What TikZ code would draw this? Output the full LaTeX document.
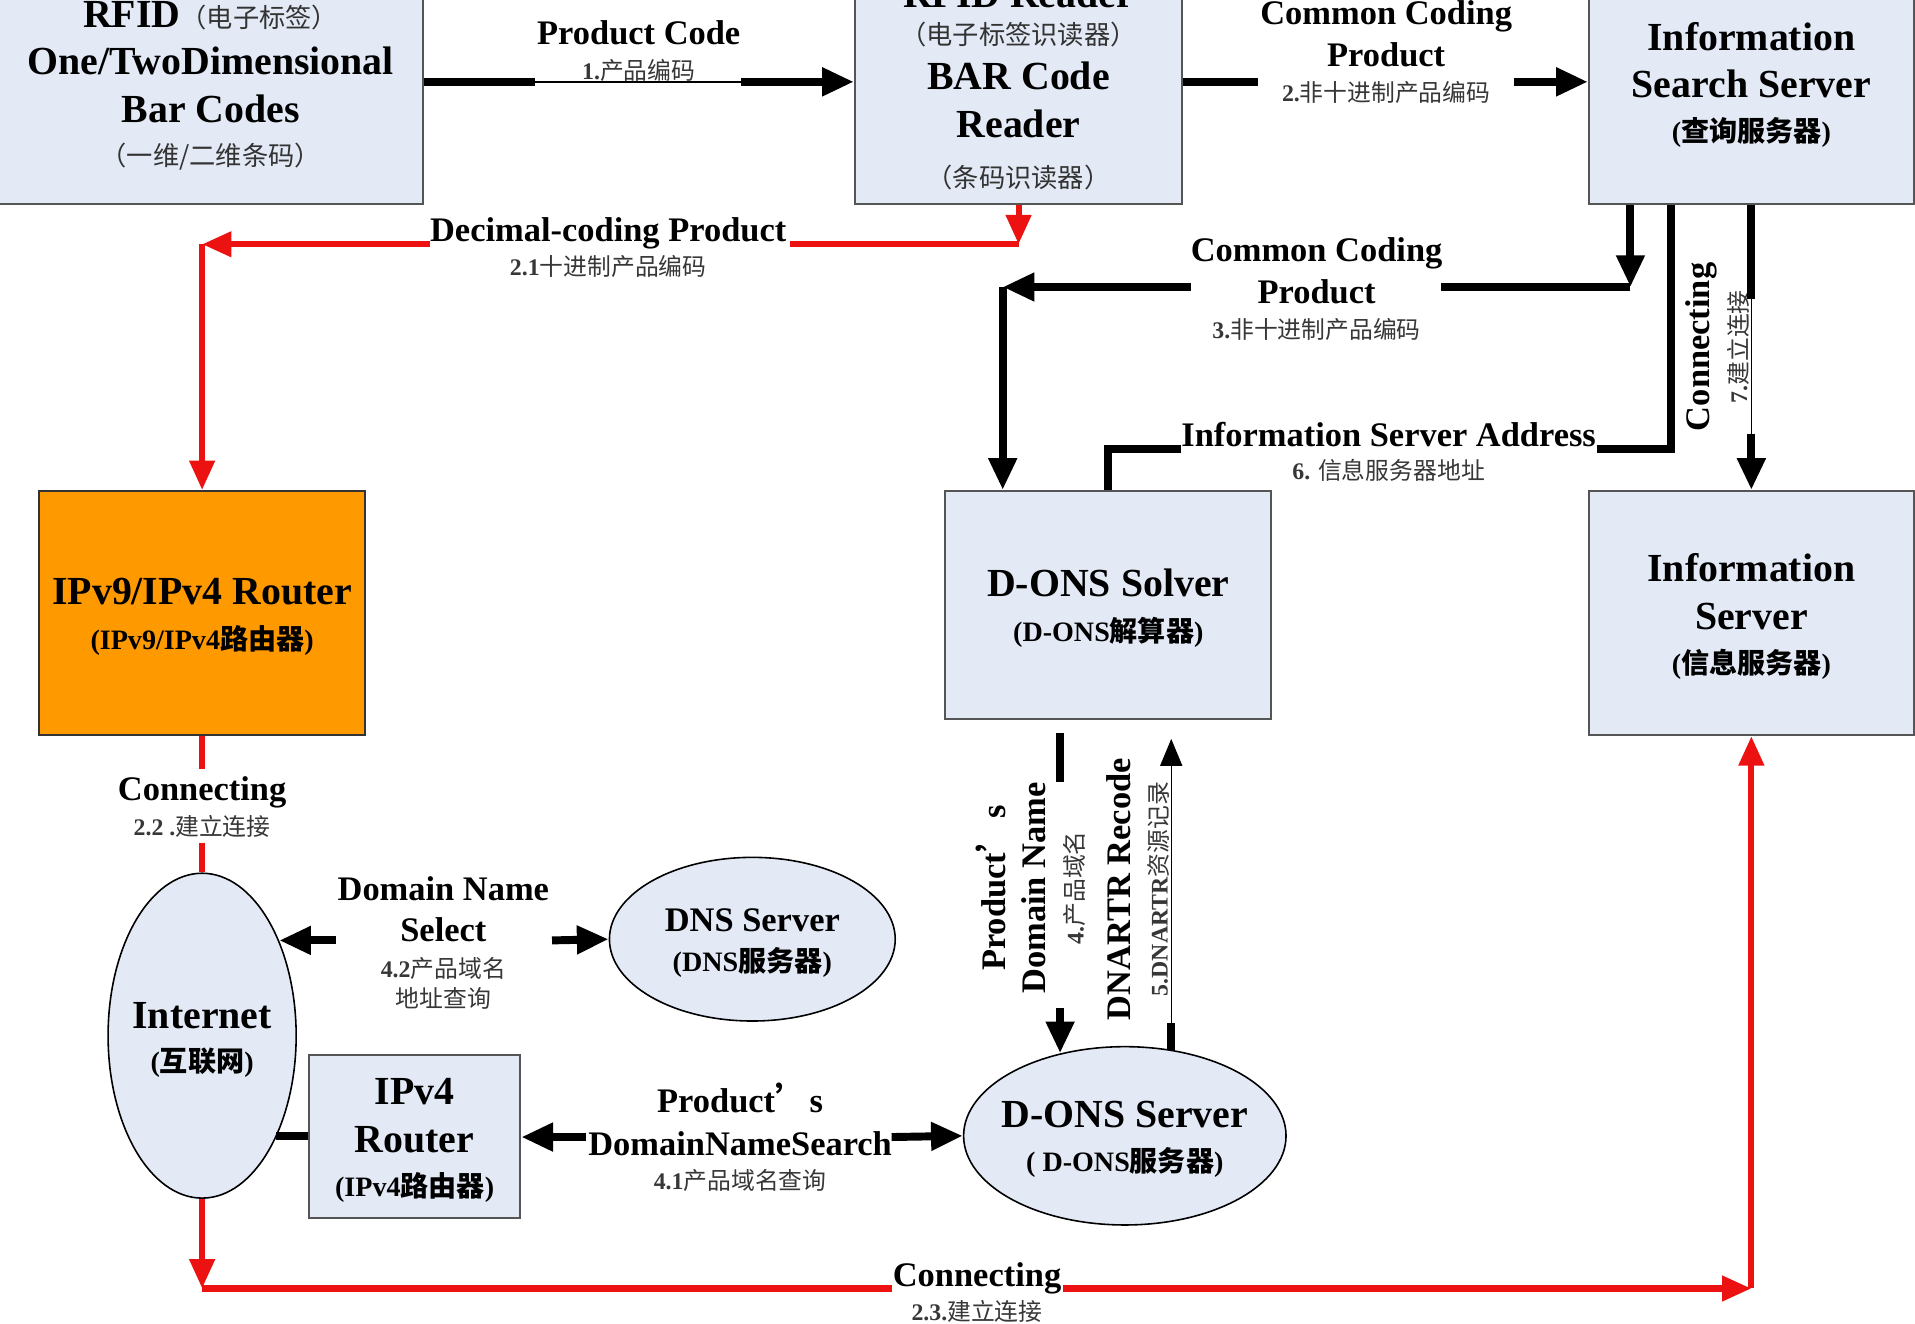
\documentclass[tikz,border=0pt]{standalone}
\usepackage{fontspec}
\setmainfont{Liberation Serif}
\newfontfamily\cjk{Noto Sans CJK SC}
\usetikzlibrary{arrows.meta,shapes.geometric,calc}

\definecolor{boxfill}{RGB}{227,234,246}
\definecolor{boxline}{RGB}{85,85,85}
\definecolor{orangefill}{RGB}{255,153,0}
\definecolor{redline}{RGB}{236,18,18}
\definecolor{smallgray}{RGB}{55,55,55}

\newcommand\zh[1]{{\cjk #1}}
\newcommand\zhb[1]{{\cjk\bfseries #1}}
\newcommand\zhr[1]{{\cjk\mdseries #1}}
\newcommand\myTitle{\fontsize{32.6}{39.5}\selectfont\bfseries}
\newcommand\myLbl{\fontsize{28.2}{34}\selectfont\bfseries}
\newcommand\mySub{\fontsize{23}{28}\selectfont\bfseries}
\newcommand\mySubR{\fontsize{21.5}{28}\selectfont\mdseries\color{black!80}}
\newcommand\mySmall{\fontsize{19.5}{24}\selectfont\bfseries\color{smallgray}}
\newcommand\topstrut{\rule{0pt}{28pt}}
\newcommand\topstrutb{\rule{0pt}{25pt}}

\tikzset{
  box/.style={draw=boxline, line width=1.6pt, fill=boxfill, align=center, font=\myTitle, inner sep=0pt},
  orangebox/.style={box, fill=orangefill, draw=black!80},
  oval/.style={ellipse, draw=black, line width=1.3pt, fill=boxfill, align=center, font=\myTitle, inner sep=0pt},
  lbl/.style={align=center, font=\myLbl, inner sep=0pt},
  blk/.style={line width=6.5pt, draw=black},
  thinln/.style={line width=1.2pt, draw=black},
  redln/.style={line width=5pt, draw=redline},
  blkarrow/.style={-{Triangle[length=26pt,width=22pt]}},
  thinarrow/.style={-{Triangle[length=22pt,width=18pt]}},
  redarrow/.style={-{Triangle[length=24pt,width=20pt]}},
}

\begin{document}
\begin{tikzpicture}[x=1pt,y=-1pt]
\useasboundingbox (0,0) rectangle (1568,1084);
\fill[white] (0,0) rectangle (1568,1084);
\clip (0,0) rectangle (1568,1084);

% ---------- nodes ----------
\node[box, minimum width=347pt, minimum height=200pt] (rfid) at (172.5,67)
  {\topstrut RFID\zh{\mySubR（电子标签）}\\[-1.5pt] One/TwoDimensional\\ Bar Codes\\[-4.5pt] \zh{\mySubR（一维/二维条码）}};
\node[box, minimum width=268pt, minimum height=200pt] (reader) at (834,67)
  {\topstrut RFID Reader\\[-9.5pt] \zh{\mySubR（电子标签识读器）}\\[-2.5pt] BAR Code\\ Reader\\[1.5pt] \zh{\mySubR（条码识读器）}};
\node[box, minimum width=266pt, minimum height=200pt] (search) at (1434,67)
  {\topstrut Information\\[-.5pt] Search Server\\[-3.5pt] {\mySub(\zhb{查询服务器})}};
\node[orangebox, minimum width=267pt, minimum height=200pt] (ipv9) at (165.5,502)
  {\topstrut IPv9/IPv4 Router\\[-2.5pt] {\mySub(IPv9/IPv4\zhb{路由器})}};
\node[box, minimum width=267pt, minimum height=187pt] (solver) at (907.5,495.5)
  {\topstrut D-ONS Solver\\[-2.5pt] {\mySub(D-ONS\zhb{解算器})}};
\node[box, minimum width=266pt, minimum height=200pt] (info) at (1434,502)
  {\topstrut Information\\[-.5pt] Server\\[-3.5pt] {\mySub(\zhb{信息服务器})}};
\node[box, minimum width=173pt, minimum height=133pt] (ipv4) at (339.5,930.5)
  {\topstrut IPv4\\ Router\\[-3.5pt] {\mySub(IPv4\zhb{路由器})}};
\node[oval, inner xsep=-6pt, minimum width=154pt, minimum height=266pt] (internet) at (165.5,848)
  {\topstrut Internet\\[-4.5pt] {\mySub(\zhb{互联网})}};
\node[oval, font=\myLbl, minimum width=234pt, minimum height=134pt] (dns) at (616,769)
  {\topstrutb DNS Server\\[-1pt] {\mySub(DNS\zhb{服务器})}};
\node[oval, inner xsep=-12pt, minimum width=264pt, minimum height=146pt] (dons) at (921,930)
  {\topstrut D-ONS Server\\[-3.5pt] {\mySub( D-ONS\zhb{服务器})}};

% ---------- labels ----------
\node[lbl] (lPC) at (523,42) {Product Code\\[-5pt] {\mySmall 1.\zhr{产品编码}}};
\node[lbl] (lCC1) at (1135,43) {Common Coding\\ Product\\[-5pt] {\mySmall 2.\zhr{非十进制产品编码}}};
\node[lbl] (lDC) at (498,203) {Decimal-coding Product\\[-6pt] {\mySmall 2.1\zhr{十进制产品编码}}};
\node[lbl] (lCC2) at (1078,237) {Common Coding\\ Product\\[-5pt] {\mySmall 3.\zhr{非十进制产品编码}}};
\node[lbl] (lISA) at (1137,370) {Information Server Address\\[-7pt] {\mySmall 6. \zhr{信息服务器地址}}};
\node[lbl, rotate=90] (lC7) at (1406,284) {Connecting\\[-3pt] {\mySmall 7.\zhr{建立连接}}};
\node[lbl, rotate=90] (lPD) at (844,727) {Product{\cjk ’}s\\[-1pt] Domain Name\\[-3pt] {\mySmall 4.\zhr{产品域名}}};
\node[lbl, rotate=90] (lDN) at (932,728) {DNARTR Recode\\[-4pt] {\mySmall 5.DNARTR\zhr{资源记录}}};
\node[lbl] (lC22) at (165.5,661) {Connecting\\[-5pt] {\mySmall 2.2 .\zhr{建立连接}}};
\node[lbl] (lDNS) at (363,772) {Domain Name\\ Select\\[-5pt] {\mySmall 4.2\zhr{产品域名}}\\[-9pt] {\mySmall\zhr{地址查询}}};
\node[lbl] (lPDS) at (606,931) {Product{\cjk ’}s\\[1pt] DomainNameSearch\\[-6pt] {\mySmall 4.1\zhr{产品域名查询}}};
\node[lbl] (lC23) at (800,1058) {Connecting\\[-6pt] {\mySmall 2.3.\zhr{建立连接}}};

% ---------- coordinates for bends and label gaps ----------
\coordinate (p1a) at (438,67);  \coordinate (p1b) at (607,67);
\coordinate (p2a) at (1030,67); \coordinate (p2b) at (1240,67);
\coordinate (r1) at (834,200);  \coordinate (r1a) at (647,200); \coordinate (r1b) at (352,200);
\coordinate (r1c) at (165.5,200);
\coordinate (c3) at (1335,235); \coordinate (c3a) at (1180,235); \coordinate (c3b) at (975,235);
\coordinate (c3c) at (821,235);
\coordinate (c6) at (1368,368); \coordinate (c6a) at (1308,368); \coordinate (c6b) at (967,368);
\coordinate (c6c) at (907.5,368);
\coordinate (c7a) at (1434,245); \coordinate (c7b) at (1434,355);
\coordinate (c4s) at (868,600); \coordinate (c4a) at (868,640); \coordinate (c4b) at (868,825);
\coordinate (c5a) at (959,838); \coordinate (c5t) at (959,605);
\coordinate (c9a) at (480,931); \coordinate (c9b) at (730,931);
\coordinate (c10a) at (275,770); \coordinate (c10b) at (452,770);
\coordinate (c12a) at (165.5,630); \coordinate (c12b) at (165.5,690);
\coordinate (c13) at (165.5,1055); \coordinate (c13a) at (730,1055); \coordinate (c13b) at (870,1055);
\coordinate (c13c) at (1434,1055);

% ---------- connectors ----------
% 1 product code
\draw[blk] (rfid.east) -- (p1a);
\draw[thinln] (p1a) -- (p1b);
\draw[blk, blkarrow] (p1b) -- (reader.west);
% 2 common coding product
\draw[blk] (reader.east) -- (p2a);
\draw[blk, blkarrow] (p2b) -- (search.west);
% 2.1 decimal-coding (red)
\draw[redln, redarrow] (reader.south) -- (r1);
\draw[redln] (r1) -- (r1a);
\draw[redln, redarrow] (r1b) -- (r1c);
\draw[redln, redarrow] (r1c) -- (ipv9.north);
% 3 common coding product
\draw[blk, blkarrow] (search.south -| c3) -- (c3);
\draw[blk] (c3) -- (c3a);
\draw[blk, blkarrow] (c3b) -- (c3c);
\draw[blk, blkarrow] (c3c) -- (solver.north -| c3c);
% 6 information server address
\draw[blk] (search.south -| c6) -- (c6) -- (c6a);
\draw[blk] (c6b) -- (c6c) -- (solver.north);
% 7 connecting
\draw[blk] (search.south) -- (c7a);
\draw[thinln] (c7a) -- (c7b);
\draw[blk, blkarrow] (c7b) -- (info.north);
% 4 product's domain name
\draw[blk] (c4s) -- (c4a);
\draw[blk, blkarrow] (c4b) -- (c4b |- dons.128);
% 5 DNARTR
\draw[blk] (c5a |- dons.61.5) -- (c5a);
\draw[thinln, thinarrow] (c5a) -- (c5t);
% 4.1 domain name search
\draw[blk, blkarrow] (c9a) -- (ipv4.east |- c9a);
\draw[blk, blkarrow] (c9b) -- (dons.west);
% 4.2 domain name select
\draw[blk, blkarrow] (c10a) -- (c10a -| internet.51.3);
\draw[blk, blkarrow] (c10b) -- (dns.west);
% internet - ipv4 router
\draw[blk] (internet.306.5 |- ipv4.west) -- (ipv4.west);
% 2.2 connecting (red)
\draw[redln] (ipv9.south) -- (c12a);
\draw[redln] (c12b) -- (internet.north);
% 2.3 connecting (red)
\draw[redln, redarrow] (internet.south) -- (c13);
\draw[redln] (c13) -- (c13a);
\draw[redln, redarrow] (c13b) -- (c13c);
\draw[redln, redarrow] (c13c) -- (info.south);
\end{tikzpicture}
\end{document}
